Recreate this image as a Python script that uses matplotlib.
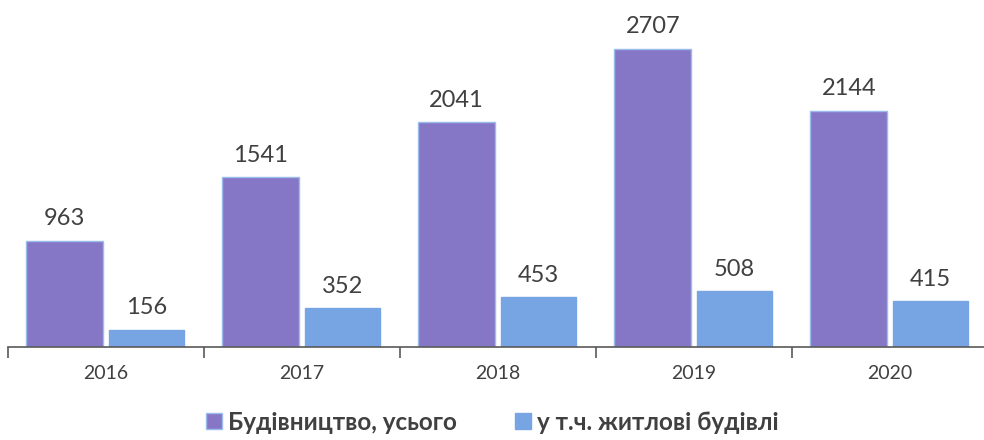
import matplotlib.pyplot as plt
import numpy as np

years = ["2016", "2017", "2018", "2019", "2020"]
total = [963, 1541, 2041, 2707, 2144]
housing = [156, 352, 453, 508, 415]
series_names = ["Будівництво, усього", "у т.ч. житлові будівлі"]

plt.rcParams['font.family'] = ['Lato', 'DejaVu Sans']

c_total = "#8577c6"
c_house = "#77a5e3"
txt = "#404040"

fig = plt.figure(figsize=(9.84, 4.40), dpi=100)
ax = fig.add_axes([0.008, 0.211, 0.996, 0.789])

x = np.arange(len(years))
b1 = ax.bar(x - 0.21, total, 0.393, color=c_total, edgecolor="#9bbbea", linewidth=1, label=series_names[0])
b2 = ax.bar(x + 0.207, housing, 0.383, color=c_house, edgecolor=c_house, linewidth=1, label=series_names[1])

for bars in (b1, b2):
    for r in bars:
        ax.text(r.get_x() + r.get_width() / 2, r.get_height() + 200, str(int(r.get_height())),
                ha="center", va="center", fontsize=17, color=txt)

ax.set_xlim(-0.5, len(years) - 0.5)
ax.set_ylim(0, 3150)
ax.set_yticks([])
for s in ("top", "right", "left"):
    ax.spines[s].set_visible(False)
ax.spines["bottom"].set_color("#595959")
ax.spines["bottom"].set_linewidth(1.2)

ax.set_xticks(np.arange(-0.5, len(years)), minor=False)
ax.set_xticklabels([])
ax.tick_params(axis="x", which="major", length=8, color="#595959", width=1.2)
ax.set_xticks(x, minor=True)
ax.set_xticklabels(years, minor=True)
ax.tick_params(axis="x", which="minor", length=0, pad=13, labelsize=14, labelcolor=txt)

leg = fig.legend(loc="lower center", bbox_to_anchor=(0.5, -0.035), ncol=2, frameon=False,
                 handlelength=0.65, handleheight=0.65, handletextpad=0.25, columnspacing=2.4,
                 prop={"weight": "bold", "size": 17.5})
for t in leg.get_texts():
    t.set_color(txt)

fig.savefig("out.png", dpi=100)
